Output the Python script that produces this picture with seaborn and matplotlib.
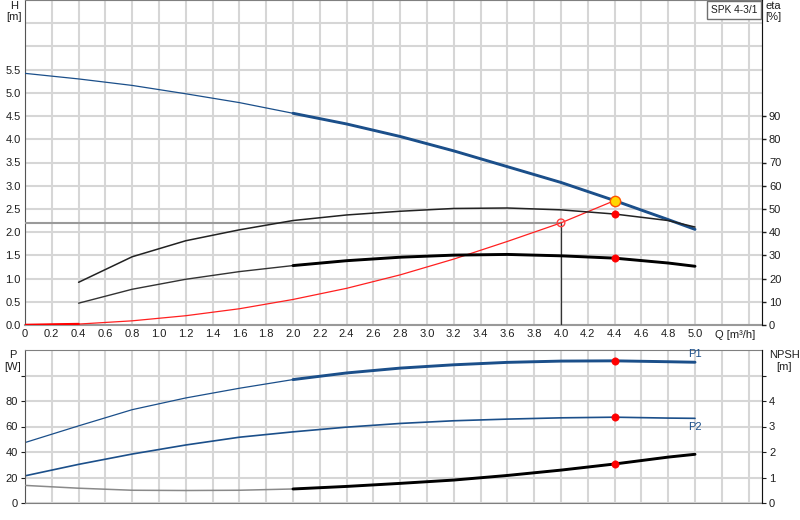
import numpy as np
import pandas as pd
import matplotlib
matplotlib.use("Agg")
import matplotlib.pyplot as plt
from matplotlib.patches import Rectangle
import seaborn as sns

# values
q = [0, 0.4, 0.8, 1.2, 1.6, 2.0, 2.4, 2.8, 3.2, 3.6, 4.0, 4.4, 4.8, 5.0]
head = [5.42, 5.30, 5.16, 4.98, 4.79, 4.56, 4.33, 4.06, 3.75, 3.41, 3.07, 2.68, 2.27, 2.06]
q_eta = [0.4, 0.8, 1.2, 1.6, 2.0, 2.4, 2.8, 3.2, 3.6, 4.0, 4.4, 4.8, 5.0]
eta_pump = [18.4, 29.4, 36.3, 41.0, 45.0, 47.4, 49.0, 50.2, 50.4, 49.6, 47.8, 45.0, 42.2]
eta_total = [9.4, 15.4, 19.7, 23.0, 25.6, 27.7, 29.2, 30.1, 30.4, 29.8, 28.8, 26.7, 25.3]
q_sys = [0, 0.4, 0.8, 1.2, 1.6, 2.0, 2.4, 2.8, 3.2, 3.6, 4.0, 4.4]
h_sys = [0, 0.02, 0.09, 0.20, 0.35, 0.55, 0.79, 1.08, 1.42, 1.80, 2.20, 2.68]
p1 = [47.4, 60.5, 73.2, 82.4, 90.0, 96.8, 102.0, 105.8, 108.4, 110.3, 111.3, 111.5, 110.8, 110.4]
p2 = [21.3, 30.3, 38.4, 45.5, 51.6, 55.8, 59.5, 62.4, 64.5, 65.8, 66.8, 67.3, 66.6, 66.4]
npsh = [0.69, 0.58, 0.50, 0.49, 0.50, 0.55, 0.65, 0.77, 0.90, 1.08, 1.29, 1.53, 1.80, 1.91]
duty_q = 4.4
duty_h = 2.68
req_q = 4.0
req_h = 2.2
pump_name = "SPK 4-3/1"

df = pd.DataFrame({"Q": q, "H": head, "P1": p1, "P2": p2, "NPSH": npsh})
df_eta = pd.DataFrame({"Q": q_eta, "eta_p": eta_pump, "eta_t": eta_total})
df_sys = pd.DataFrame({"Q": q_sys, "H": h_sys})

sns.set_style("white")
plt.rcParams["font.family"] = ["Liberation Sans", "DejaVu Sans"]
fs = 8

W, H = 800, 520
fig = plt.figure(figsize=(8, 5.2), dpi=100)

def fx(px):
    return px / W

def fy(py):
    return 1 - py / H

blue = "#1b4f8a"
grid_c = "#d6d6d6"
txt_c = "#1e1e1e"

# ---------- top panel: H / eta ----------
ax = fig.add_axes([fx(25), fy(325), fx(762) - fx(25), fy(0) - fy(325)])
ax.set_xlim(0, 5.5)
ax.set_ylim(0, 7)
xt = np.round(np.arange(0, 5.41, 0.2), 1)
ax.set_xticks(xt)
ax.set_xticklabels(["0" if v == 0 else (f"{v:.1f}" if v <= 5.0 else "") for v in xt])
yt = np.round(np.arange(0, 7.01, 0.5), 1)
ax.set_yticks(yt)
ax.set_yticklabels([f"{v:.1f}" if v <= 5.5 else "" for v in yt])
ax.grid(True, color=grid_c, lw=1.5)
ax.tick_params(length=0, pad=3, colors=txt_c, labelsize=fs)
for s in ax.spines.values():
    s.set_color("#808080")
ax.spines["left"].set_color("#555555")
ax.spines["bottom"].set_color("#999999")
ax.spines["bottom"].set_linewidth(1.5)

# reference lines to the required duty point
ax.plot([0, req_q], [req_h, req_h], color="#9a9a9a", lw=1.5, zorder=3)
ax.plot([req_q, req_q], [0, req_h], color="#333333", lw=0.9, zorder=3)

sns.lineplot(data=df_sys, x="Q", y="H", ax=ax, color="#ff2020", lw=0.9, zorder=4)
sns.lineplot(data=df_sys[df_sys.Q <= 0.4], x="Q", y="H", ax=ax, color="#ff0000", lw=1.8, zorder=4)
sns.lineplot(data=df, x="Q", y="H", ax=ax, color=blue, lw=0.9, zorder=5)
sns.lineplot(data=df[df.Q >= 2.0], x="Q", y="H", ax=ax, color=blue, lw=2.1, zorder=5)
ax.set_xlabel("")
ax.set_ylabel("")

axr = ax.twinx()
axr.set_ylim(0, 140)
axr.set_yticks(np.arange(0, 91, 10))
axr.tick_params(length=3, pad=2, colors=txt_c, width=1, labelsize=fs)
for s in axr.spines.values():
    s.set_visible(False)
axr.spines["right"].set_visible(True)
axr.spines["right"].set_color("#111111")
sns.lineplot(data=df_eta, x="Q", y="eta_p", ax=axr, color="#222222", lw=1.1)
sns.lineplot(data=df_eta, x="Q", y="eta_t", ax=axr, color="#333333", lw=1.0)
sns.lineplot(data=df_eta[df_eta.Q >= 2.0], x="Q", y="eta_t", ax=axr, color="black", lw=2.1)
idx = q_eta.index(duty_q)
sns.scatterplot(x=[duty_q, duty_q], y=[eta_pump[idx], eta_total[idx]], ax=axr,
                color="#ff0000", s=28, edgecolor="#ff0000", zorder=6)
axr.set_xlabel("")
axr.set_ylabel("")
# duty point markers (on H scale, drawn over the twin)
axr.scatter([req_q], [req_h * 20], s=30, facecolor="none", edgecolor="#ff4040", lw=1, zorder=7)
axr.scatter([duty_q], [duty_h * 20], s=55, facecolor="#ffd700", edgecolor="#ff5000", lw=1, zorder=7)
axr.set_xlim(0, 5.5)

ax.text(5.3, -0.11, "Q [m³/h]", ha="center", va="top", fontsize=fs, color=txt_c,
        transform=ax.transData, clip_on=False)

# pump name box
fig.patches.append(Rectangle((fx(707), fy(19)), fx(761) - fx(707), fy(1) - fy(19),
                             transform=fig.transFigure, fc="white", ec="#707070", lw=1, zorder=10))
fig.text(fx(734), fy(10), pump_name, ha="center", va="center", fontsize=7.3, color=txt_c, zorder=11)

fig.text(fx(14), fy(6), "H", ha="center", va="center", fontsize=fs, color=txt_c)
fig.text(fx(14), fy(17), "[m]", ha="center", va="center", fontsize=fs, color=txt_c)
fig.text(fx(773), fy(6), "eta", ha="center", va="center", fontsize=fs, color=txt_c)
fig.text(fx(773), fy(17), "[%]", ha="center", va="center", fontsize=fs, color=txt_c)

# ---------- bottom panel: P / NPSH ----------
bx = fig.add_axes([fx(25), fy(503), fx(762) - fx(25), fy(350) - fy(503)])
bx.set_xlim(0, 5.5)
bx.set_ylim(0, 120)
bx.set_xticks(xt)
bx.set_xticklabels([])
bx.set_yticks([0, 20, 40, 60, 80, 100])
bx.set_yticklabels(["0", "20", "40", "60", "80", ""])
bx.grid(True, color=grid_c, lw=1.5)
bx.tick_params(axis="x", length=0)
bx.tick_params(axis="y", length=3, pad=2, colors=txt_c, labelsize=fs)
for s in bx.spines.values():
    s.set_color("#808080")
bx.spines["left"].set_color("#555555")

sns.lineplot(data=df, x="Q", y="P1", ax=bx, color=blue, lw=0.9)
sns.lineplot(data=df[df.Q >= 2.0], x="Q", y="P1", ax=bx, color=blue, lw=2.1)
sns.lineplot(data=df, x="Q", y="P2", ax=bx, color=blue, lw=1.2)
i4 = q.index(duty_q)
sns.scatterplot(x=[duty_q, duty_q], y=[p1[i4], p2[i4]], ax=bx, color="#ff0000",
                s=28, edgecolor="#ff0000", zorder=6)
bx.set_xlabel("")
bx.set_ylabel("")
bx.text(5.0, p1[-1] + 2.5, "P1", color=blue, fontsize=fs, ha="center", va="bottom")
bx.text(5.0, p2[-1] - 2.5, "P2", color=blue, fontsize=fs, ha="center", va="top")

bxr = bx.twinx()
bxr.set_ylim(0, 6)
bxr.set_yticks([0, 1, 2, 3, 4, 5])
bxr.set_yticklabels(["0", "1", "2", "3", "4", ""])
bxr.tick_params(length=3, pad=2, colors=txt_c, labelsize=fs)
for s in bxr.spines.values():
    s.set_visible(False)
bxr.spines["right"].set_visible(True)
bxr.spines["right"].set_color("#111111")
sns.lineplot(data=df, x="Q", y="NPSH", ax=bxr, color="#8a8a8a", lw=1.1)
sns.lineplot(data=df[df.Q >= 2.0], x="Q", y="NPSH", ax=bxr, color="black", lw=2.1)
sns.scatterplot(x=[duty_q], y=[npsh[i4]], ax=bxr, color="#ff0000", s=28,
                edgecolor="#ff0000", zorder=6)
bxr.set_xlabel("")
bxr.set_ylabel("")
bxr.set_xlim(0, 5.5)

fig.text(fx(13), fy(355), "P", ha="center", va="center", fontsize=fs, color=txt_c)
fig.text(fx(13), fy(367), "[W]", ha="center", va="center", fontsize=fs, color=txt_c)
fig.text(fx(784), fy(355), "NPSH", ha="center", va="center", fontsize=fs, color=txt_c)
fig.text(fx(784), fy(367), "[m]", ha="center", va="center", fontsize=fs, color=txt_c)

fig.savefig("out.png", dpi=100)
